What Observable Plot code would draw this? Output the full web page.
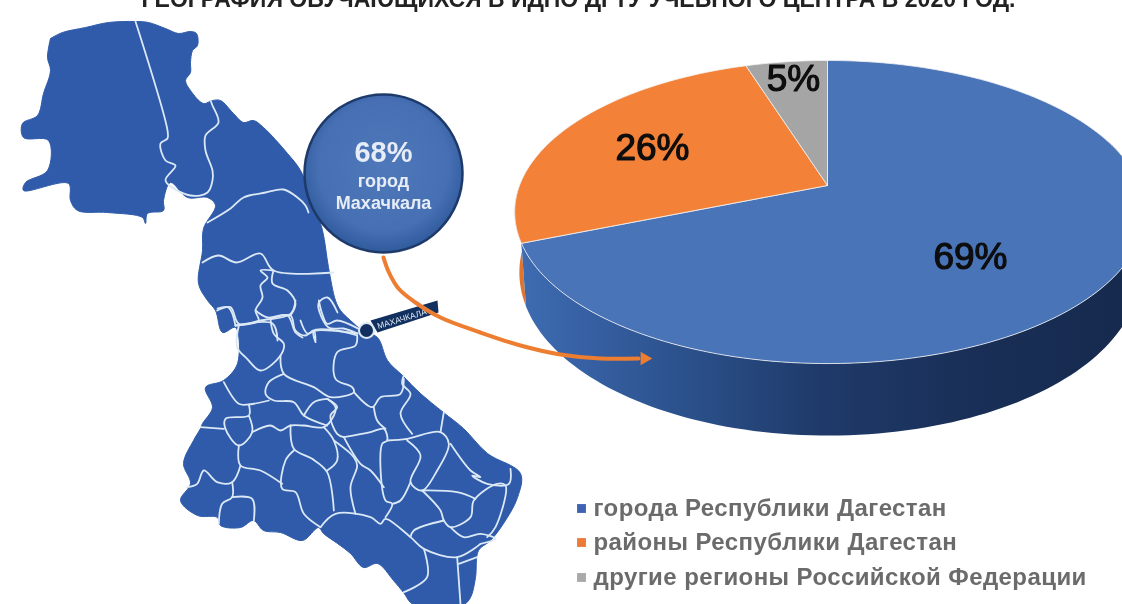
<!DOCTYPE html>
<html><head><meta charset="utf-8">
<script src="https://cdn.jsdelivr.net/npm/d3@7"></script>
<script src="https://cdn.jsdelivr.net/npm/@observablehq/plot@0.6"></script>
<style>html,body{margin:0;padding:0;background:#fff}svg{display:block;filter:blur(.5px)}.leg text{letter-spacing:.42px}</style>
</head><body><div id="c"></div>
<script>
const titleText = "ГЕОГРАФИЯ ОБУЧАЮЩИХСЯ В ИДПО ДГТУ УЧЕБНОГО ЦЕНТРА В 2020 ГОД.";
const categories = ["города Республики Дагестан","районы Республики Дагестан","другие регионы Российской Федерации"];
const shares = [69,26,5];
const colors = ["#4a74b8","#f38137","#a5a5a5"];
const bubbleLines = ["68%","город","Махачкала"];
const pinLabel = "МАХАЧКАЛА";

const mapOutline = [[50,38],[62,32],[85,27],[108,22],[135,21],[148,22],[165,28],[178,33],[190,31],[196,33],[197,45],[192,50],[190,62],[190,72],[185,80],[190,90],[203,103],[212,100],[220,100],[233,113],[243,122],[253,120],[263,127],[287,153],[300,170],[312,200],[322,230],[328,267],[335,300],[340,310],[350,320],[362,330],[377,337],[387,360],[402,375],[420,393],[443,412],[463,428],[487,453],[520,473],[517,497],[503,523],[490,540],[478,550],[475,577],[470,597],[463,604],[413,604],[403,592],[393,580],[377,563],[363,567],[350,553],[337,543],[323,533],[318,527],[302,540],[280,532],[263,530],[253,520],[240,527],[220,525],[217,517],[197,515],[180,500],[190,483],[183,463],[193,440],[200,428],[202,423],[212,407],[205,387],[223,380],[237,363],[235,327],[222,332],[215,310],[207,300],[198,283],[202,250],[203,228],[215,205],[207,197],[187,197],[170,182],[163,200],[163,210],[147,213],[145,223],[142,217],[107,212],[77,210],[70,200],[68,183],[23,190],[25,182],[47,170],[48,140],[23,137],[22,123],[37,115],[43,93],[50,70],[47,57],[50,38]];
const upperBorders = [
 [[135,21],[167,130],[167,138],[160,143],[165,160],[175,165],[165,180],[190,195],[207,192],[212,180],[212,170],[205,150],[205,135],[218,122],[212,105],[210,100]],
 [[207,222],[230,208],[243,197],[265,192],[283,189],[297,197],[305,205],[308,212]],
 [[202,262],[218,255],[236,262],[260,253],[273,270],[333,272]],
 [[273,270],[260,270],[267,277],[260,285],[262,297],[255,310],[258,320],[235,325]],
 [[255,310],[267,317],[287,315],[295,332],[302,337]],
 [[235,325],[228,307],[217,308]],
 [[273,270],[272,283],[287,290],[295,303],[290,315]],
 [[337,312],[327,297],[318,303],[328,327],[343,328],[357,333]],
 [[300,320],[307,333],[315,330],[357,333]],
 [[235,325],[272,323],[277,340]]
];
const lowerBorders = [
 [[110,30],[150,20],[175,70],[240,60],[330,40],[345,0]],
 [[415,0],[425,40],[440,70],[470,60],[535,85]],
 [[270,55],[330,45],[345,90],[375,105],[400,90],[405,125],[400,90],[470,90],[530,105]],
 [[175,75],[170,140],[200,175],[240,210],[300,165],[310,130],[280,100],[270,55]],
 [[530,105],[525,135],[470,155],[465,235],[515,260],[520,275],[450,290],[400,260],[310,220],[300,165]],
 [[520,275],[575,320],[600,290],[660,280],[670,235]],
 [[670,225],[665,250],[690,280],[660,340],[695,400]],
 [[310,220],[265,245],[255,280],[280,300],[340,305],[370,345],[440,375]],
 [[130,245],[175,310],[205,312],[265,300]],
 [[205,312],[205,345],[135,355],[135,385],[175,435],[215,395],[205,345]],
 [[60,380],[130,385]],
 [[215,395],[270,375],[300,390],[330,375],[370,375],[430,380],[460,345],[465,320],[440,295]],
 [[370,345],[400,305],[440,295]],
 [[175,435],[180,495],[240,510],[305,550]],
 [[330,375],[340,445],[395,475],[440,515],[460,630]],
 [[340,450],[315,480],[305,565],[345,575],[370,640],[420,680]],
 [[180,495],[155,545],[110,545],[70,510],[50,550],[20,560]],
 [[155,545],[155,590],[125,610],[115,670]],
 [[155,590],[215,595],[220,660]],
 [[420,680],[465,640],[570,650],[600,670],[615,655],[690,710],[730,745],[830,770],[900,730]],
 [[730,745],[740,830],[670,875]],
 [[830,770],[840,910]],
 [[835,790],[890,770]],
 [[430,380],[460,420],[470,480],[440,510]],
 [[460,420],[520,470],[530,495],[510,560],[525,640]],
 [[490,410],[570,395],[610,385],[620,420],[605,430],[615,600],[635,610],[615,650]],
 [[490,410],[540,490],[570,510],[610,560]],
 [[580,320],[590,360],[615,385]],
 [[440,295],[470,320],[450,345],[470,400],[490,410]],
 [[620,420],[680,415],[780,395],[805,430],[770,510],[725,570],[690,545],[720,465],[680,420]],
 [[690,545],[660,600],[635,610]],
 [[725,570],[780,630],[790,660],[810,680],[870,650],[880,600],[950,550],[975,555],[945,680],[920,710]],
 [[725,570],[830,575],[885,595]],
 [[780,395],[790,335]],
 [[810,430],[870,510],[900,530],[875,525],[920,550],[985,550],[990,505]],
 [[790,660],[700,690],[690,710]],
 [[810,680],[850,710],[900,700],[945,715],[900,730]]
];
const arrowPath = [[383,257],[388,271],[398,288],[415,302],[440,317],[480,332],[520,345],[560,354],[600,358],[638,358]];
const arrowTip = [[644,358]];
const pinFlag = [[370,320],[437,300],[438,312],[377,332]];
const pin = [[366,330]];
const bubble = [[383,173]];

// lower map borders were read in a 3× crop whose origin is (180,300)
const borders = upperBorders.concat(lowerBorders.map(l => l.map(([a,b]) => [180+a/3, 300+b/3])));
const borderRows = borders.flatMap((l,i) => l.map(([x,y]) => ({x,y,i})));

// Tilted disc: a circle seen in perspective, apex at (827,185)
const k = 0.175, b = 146.9;
function topRim(f){
  const t = 2*Math.PI*f, u = Math.sin(t), v = Math.cos(t), w = 1+k*v;
  const a = u<0 ? 308 : 312;
  return {x: 827 + a*u/w, y: 185 - b*v/w};
}
function bottomRim(f){
  const p = topRim(f), v = Math.cos(2*Math.PI*f);
  return {x: 827 + (p.x-827)*0.985, y: p.y + 58 - 14*v};
}
const apex = {x:827,y:185};
const cum = d3.cumsum(shares);
const sum = d3.sum(shares);
function arcRange(f0,f1){ const n = Math.max(2,Math.ceil((f1-f0)*240)); return d3.range(n+1).map(i=>f0+(f1-f0)*i/n); }
const slices = shares.map((s,i)=>{
  const f0=(i?cum[i-1]:0)/sum, f1=cum[i]/sum;
  return [apex,...arcRange(f0,f1).map(topRim),apex];
});
function side(f0,f1){
  const r = arcRange(f0,f1);
  return [...r.map(topRim),...r.slice().reverse().map(bottomRim)];
}
const f69 = shares[0]/sum;
const blueSide = side(0.2,f69);
const orangeSide = side(f69,0.745);

const labels = [{x:970,y:257,t:shares[0]+"%"},{x:652,y:148,t:shares[1]+"%"},{x:793,y:79,t:shares[2]+"%"}];
const legendY = [508,542,577];
const legend = categories.map((c,i)=>({c,col:colors[i],y:legendY[i]}));
legend[0].col="#3f62b5"; legend[1].col="#ee7a38"; legend[2].col="#a9a9a9";

const F = "Liberation Sans, Arial, sans-serif";
const defs = () => {
  const d = d3.create("svg:defs");
  const g = d.append("linearGradient").attr("id","sideG").attr("gradientUnits","userSpaceOnUse").attr("x1",515).attr("x2",1122).attr("y1",0).attr("y2",0);
  [[0,"#3f6cb2"],[0.12,"#3660a3"],[0.3,"#2a4f88"],[0.5,"#1f3a6a"],[0.75,"#192f57"],[1,"#162a4e"]].forEach(([o,c])=>g.append("stop").attr("offset",o).attr("stop-color",c));
  const r = d.append("radialGradient").attr("id","bubG").attr("cx","50%").attr("cy","45%").attr("r","55%");
  [[0,"#4f78ba"],[0.75,"#4670b3"],[1,"#2f5a9c"]].forEach(([o,c])=>r.append("stop").attr("offset",o).attr("stop-color",c));
  return d.node();
};

const plot = Plot.plot({
  width:1122,height:604,margin:0,
  style:{background:"#fff",fontFamily:F},
  x:{domain:[0,1122],range:[0,1122],axis:null},
  y:{domain:[0,604],range:[0,604],axis:null},
  marks:[
    defs,
    Plot.text([titleText],{x:()=>578,y:()=>6,text:d=>d,fontSize:23,fontWeight:"bold",fill:"#222",lineAnchor:"bottom"}),
    Plot.line(mapOutline,{x:d=>d[0],y:d=>d[1],fill:"#2f5baa",stroke:"#2f5baa",strokeWidth:1,curve:"catmull-rom"}),
    Plot.line(borderRows,{x:"x",y:"y",z:"i",stroke:"#dbe8f6",strokeWidth:1.8,curve:"catmull-rom"}),
    // 3D pie
    Plot.line(orangeSide,{x:"x",y:"y",fill:"#e0752f",stroke:"none"}),
    Plot.line(blueSide,{x:"x",y:"y",fill:"url(#sideG)",stroke:"none"}),
    ...slices.map((s,i)=>Plot.line(s,{x:"x",y:"y",fill:colors[i],stroke:"#f2f2f2",strokeWidth:0.8})),
    Plot.text(labels,{x:"x",y:"y",text:"t",fontSize:37,fill:"#0d0d0d",stroke:"#0d0d0d",strokeWidth:1.2}),
    // pin
    Plot.line(pinFlag,{x:d=>d[0],y:d=>d[1],fill:"#12305f",stroke:"none"}),
    Plot.text([pinLabel],{x:()=>377,y:()=>326,text:d=>d,fontSize:8.5,fill:"#dbe5f2",textAnchor:"start",rotate:-17}),
    Plot.dot(pin,{x:d=>d[0],y:d=>d[1],r:7.5,fill:"#12305f",stroke:"#dfe9f5",strokeWidth:2}),
    // arrow
    Plot.line(arrowPath,{x:d=>d[0],y:d=>d[1],stroke:"#ed7d31",strokeWidth:4,curve:"catmull-rom"}),
    Plot.dot(arrowTip,{x:d=>d[0],y:d=>d[1],symbol:"triangle",r:5,fill:"#ed7d31",rotate:90}),
    // bubble
    Plot.dot(bubble,{x:d=>d[0],y:d=>d[1],r:79,fill:"url(#bubG)",stroke:"#1d3a6b",strokeWidth:2.5}),
    Plot.text([bubbleLines[0]],{x:()=>383,y:()=>152,text:d=>d,fontSize:29,fontWeight:"bold",fill:"#e6edf6"}),
    Plot.text([bubbleLines[1]],{x:()=>383,y:()=>181,text:d=>d,fontSize:18,fontWeight:"bold",fill:"#e6edf6"}),
    Plot.text([bubbleLines[2]],{x:()=>383,y:()=>203,text:d=>d,fontSize:18,fontWeight:"bold",fill:"#e6edf6"}),
    // legend
    Plot.dot(legend,{x:()=>581,y:"y",symbol:"square",r:5,fill:"col"}),
    Plot.text(legend,{x:()=>593,y:"y",text:"c",fontSize:24,fontWeight:"bold",fill:"#6b6b6b",textAnchor:"start",className:"leg"})
  ]
});
document.getElementById("c").appendChild(plot);
</script></body></html>
